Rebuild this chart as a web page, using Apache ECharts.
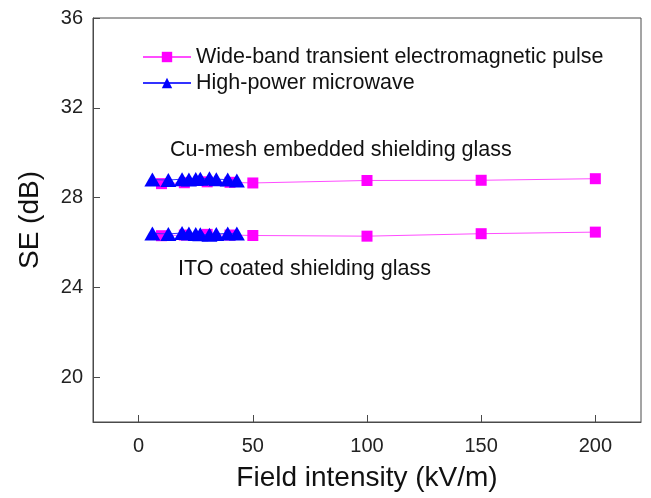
<!DOCTYPE html>
<html>
<head>
<meta charset="utf-8">
<script src="https://cdn.jsdelivr.net/npm/echarts@6/dist/echarts.min.js"></script>
<style>
  html, body { margin: 0; padding: 0; background: #fff; }
  #chart { width: 651px; height: 498px; }
</style>
</head>
<body>
<div id="chart"></div>
<script>
// Shielding effectiveness of two glass types under two field sources
const seriesNames = ['Wide-band transient electromagnetic pulse', 'High-power microwave'];

// Wide-band transient EMP test points (kV/m)
const wtempField = [10, 20, 30, 40, 50, 100, 150, 200];
const wtempCuMesh = [28.62, 28.66, 28.70, 28.68, 28.65, 28.76, 28.77, 28.84];
const wtempITO = [26.30, 26.33, 26.36, 26.33, 26.31, 26.28, 26.39, 26.46];

// High-power microwave test points (kV/m)
const hpmField = [6, 13, 19, 22, 25, 27, 31, 34, 39, 43];
const hpmCuMesh = [28.80, 28.78, 28.82, 28.80, 28.83, 28.84, 28.86, 28.82, 28.80, 28.76];
const hpmITO = [26.40, 26.38, 26.42, 26.40, 26.38, 26.36, 26.34, 26.38, 26.40, 26.40];

const xTicks = [0, 50, 100, 150, 200];
const yTicks = [20, 24, 28, 32, 36];

const glassLabels = ['Cu-mesh embedded shielding glass', 'ITO coated shielding glass'];

const FONT = '"Liberation Sans", Arial, sans-serif';
const AXIS_COLOR = '#4a4a4a';

function pairs(xs, ys) {
  return xs.map((x, i) => [x, ys[i]]);
}

function wtempSeries(values) {
  return {
    name: seriesNames[0],
    type: 'line',
    data: pairs(wtempField, values),
    symbol: 'rect',
    symbolSize: 11,
    itemStyle: { color: '#ff00ff' },
    lineStyle: { color: '#ff4dff', width: 1 },
    z: 2
  };
}

function hpmSeries(values) {
  return {
    name: seriesNames[1],
    type: 'line',
    data: pairs(hpmField, values),
    symbol: 'triangle',
    symbolSize: [16, 14],
    itemStyle: { color: '#0000ff' },
    lineStyle: { color: '#3333ff', width: 1 },
    z: 3
  };
}

const chart = echarts.init(document.getElementById('chart'), null, { renderer: 'canvas' });

chart.setOption({
  backgroundColor: '#fff',
  animation: false,
  textStyle: { fontFamily: FONT },
  grid: {
    left: 93, right: 10, top: 18, bottom: 76,
    show: true,
    borderColor: AXIS_COLOR,
    borderWidth: 1,
    containLabel: false,
    outerBoundsMode: 'none'
  },
  legend: {
    data: seriesNames,
    orient: 'vertical',
    left: 137,
    top: 41,
    itemWidth: 48,
    itemHeight: 13,
    itemGap: 4,
    textStyle: { fontFamily: FONT, fontSize: 21.5, color: '#111' },
    selectedMode: false
  },
  xAxis: {
    type: 'value',
    min: -20,
    max: 220,
    name: 'Field intensity (kV/m)',
    nameLocation: 'middle',
    nameGap: 42,
    nameTextStyle: { fontFamily: FONT, fontSize: 28, color: '#111' },
    axisLine: { show: true, onZero: false, lineStyle: { color: AXIS_COLOR, width: 1 } },
    axisTick: { show: true, inside: true, length: 7, customValues: xTicks, lineStyle: { color: AXIS_COLOR } },
    axisLabel: { customValues: xTicks, margin: 14, fontFamily: FONT, fontSize: 20, color: '#222' },
    splitLine: { show: false }
  },
  yAxis: {
    type: 'value',
    min: 18,
    max: 36,
    name: 'SE (dB)',
    nameLocation: 'middle',
    nameGap: 49,
    nameTextStyle: { fontFamily: FONT, fontSize: 28, color: '#111' },
    axisLine: { show: true, onZero: false, lineStyle: { color: AXIS_COLOR, width: 1 } },
    axisTick: { show: true, inside: true, length: 7, customValues: yTicks, lineStyle: { color: AXIS_COLOR } },
    axisLabel: { customValues: yTicks, margin: 10, fontFamily: FONT, fontSize: 20, color: '#222' },
    splitLine: { show: false }
  },
  graphic: [
    {
      type: 'text',
      left: 170,
      top: 139,
      style: { text: glassLabels[0], font: '21.5px ' + FONT, fill: '#111' }
    },
    {
      type: 'text',
      left: 178,
      top: 258,
      style: { text: glassLabels[1], font: '21.5px ' + FONT, fill: '#111' }
    }
  ],
  series: [
    wtempSeries(wtempCuMesh),
    wtempSeries(wtempITO),
    hpmSeries(hpmCuMesh),
    hpmSeries(hpmITO)
  ]
});
</script>
</body>
</html>
